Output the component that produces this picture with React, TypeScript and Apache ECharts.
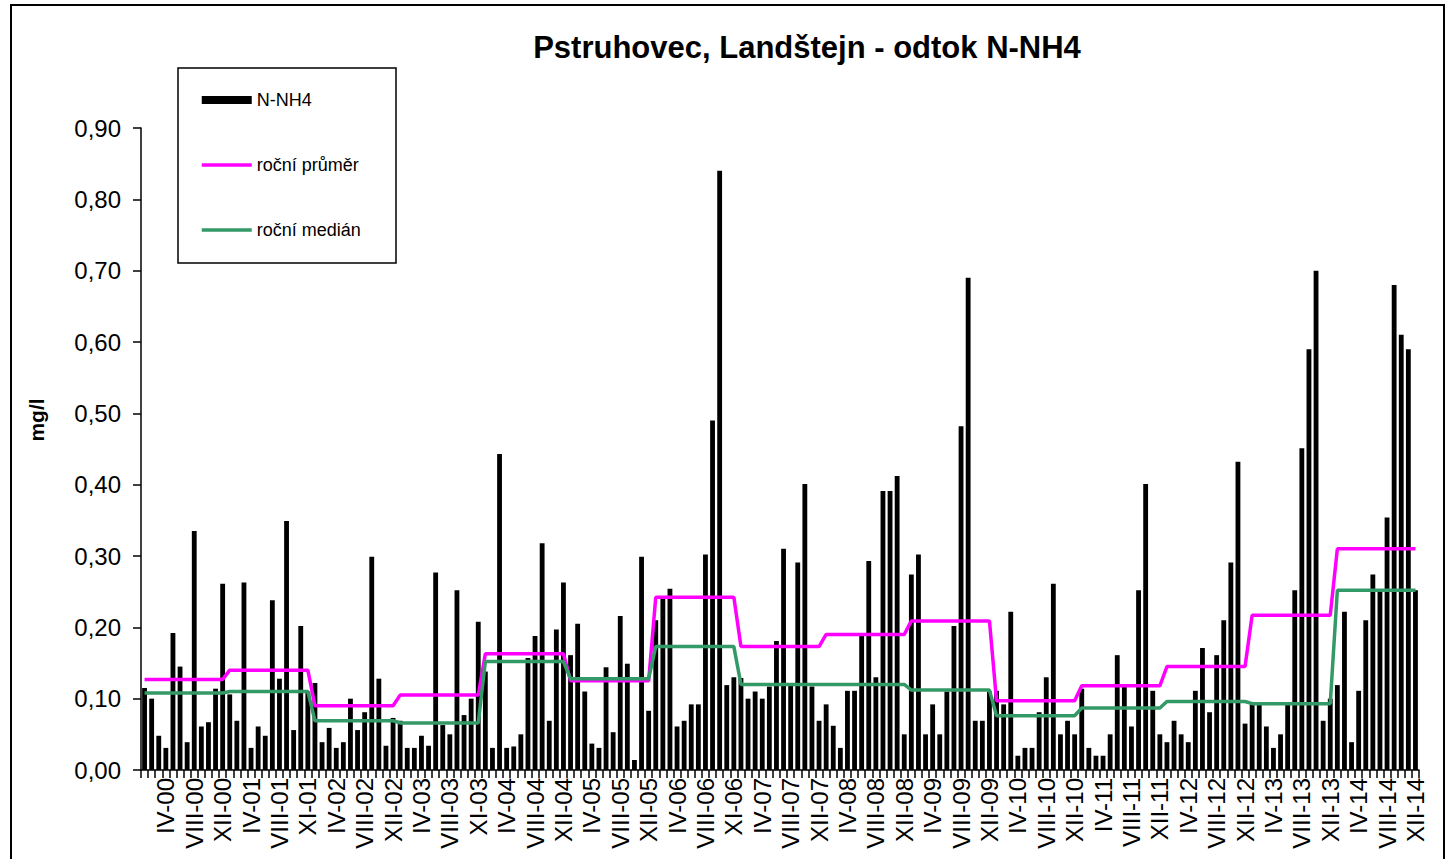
import React, { useEffect, useRef } from "react";
import * as echarts from "echarts";

// ---- categories (sample months) ----
const years = ["00", "01", "02", "03", "04", "05", "06", "07", "08", "09", "10", "11", "12", "13", "14"];
const monthsRegular = ["I", "II", "III", "IV", "V", "VI", "VII", "VIII", "IX", "X", "XI", "XII"];
const monthsShifted = ["I", "II", "III", "IV", "V", "VI", "VII", "VIII", "IX", "X", "X", "XI"];
const shiftedYears = ["01", "03", "06"];

// ---- N-NH4 values (mg/l), 12 samples per year ----
const nh4_2000 = [0.115, 0.1, 0.048, 0.031, 0.192, 0.145, 0.039, 0.335, 0.061, 0.067, 0.114, 0.261];
const nh4_2001 = [0.106, 0.069, 0.263, 0.031, 0.061, 0.048, 0.238, 0.128, 0.349, 0.056, 0.202, 0.11];
const nh4_2002 = [0.122, 0.039, 0.059, 0.031, 0.039, 0.1, 0.056, 0.081, 0.299, 0.128, 0.034, 0.073];
const nh4_2003 = [0.069, 0.031, 0.031, 0.048, 0.034, 0.277, 0.063, 0.05, 0.252, 0.077, 0.1, 0.208];
const nh4_2004 = [0.138, 0.031, 0.443, 0.031, 0.033, 0.05, 0.157, 0.188, 0.318, 0.069, 0.197, 0.263];
const nh4_2005 = [0.161, 0.205, 0.11, 0.037, 0.031, 0.144, 0.053, 0.216, 0.149, 0.014, 0.299, 0.083];
const nh4_2006 = [0.21, 0.24, 0.254, 0.061, 0.069, 0.092, 0.092, 0.302, 0.49, 0.84, 0.119, 0.13];
const nh4_2007 = [0.129, 0.1, 0.11, 0.1, 0.117, 0.181, 0.31, 0.12, 0.291, 0.401, 0.117, 0.069];
const nh4_2008 = [0.092, 0.062, 0.031, 0.111, 0.111, 0.19, 0.293, 0.13, 0.391, 0.391, 0.412, 0.05];
const nh4_2009 = [0.274, 0.302, 0.05, 0.092, 0.05, 0.11, 0.202, 0.482, 0.69, 0.069, 0.069, 0.11];
const nh4_2010 = [0.111, 0.092, 0.222, 0.02, 0.031, 0.031, 0.081, 0.13, 0.261, 0.05, 0.069, 0.05];
const nh4_2011 = [0.114, 0.031, 0.02, 0.02, 0.05, 0.161, 0.12, 0.061, 0.252, 0.401, 0.111, 0.05];
const nh4_2012 = [0.039, 0.069, 0.05, 0.039, 0.111, 0.171, 0.081, 0.161, 0.21, 0.291, 0.432, 0.065];
const nh4_2013 = [0.092, 0.092, 0.061, 0.031, 0.05, 0.092, 0.252, 0.451, 0.59, 0.7, 0.069, 0.1];
const nh4_2014 = [0.119, 0.222, 0.039, 0.111, 0.21, 0.274, 0.252, 0.354, 0.68, 0.61, 0.59, 0.252];

// ---- annual statistics ----
const annualMean = [0.127, 0.14, 0.09, 0.105, 0.163, 0.125, 0.242, 0.173, 0.19, 0.209, 0.097, 0.118, 0.145, 0.217, 0.31];
const annualMedian = [0.108, 0.11, 0.069, 0.066, 0.152, 0.128, 0.173, 0.12, 0.12, 0.112, 0.076, 0.087, 0.096, 0.093, 0.252];

const yearlyValues = [
  nh4_2000, nh4_2001, nh4_2002, nh4_2003, nh4_2004, nh4_2005, nh4_2006, nh4_2007,
  nh4_2008, nh4_2009, nh4_2010, nh4_2011, nh4_2012, nh4_2013, nh4_2014,
];

const FONT = "'Liberation Sans', Arial, Helvetica, sans-serif";

export default function App() {
  const ref = useRef<HTMLDivElement>(null);

  useEffect(() => {
    if (!ref.current) return;
    const chart = echarts.init(ref.current, undefined, { renderer: "svg" });

    const categories: string[] = [];
    years.forEach((y) => {
      const months = shiftedYears.includes(y) ? monthsShifted : monthsRegular;
      months.forEach((m) => categories.push(`${m}-${y}`));
    });
    const barData: number[] = [];
    const meanData: number[] = [];
    const medianData: number[] = [];
    yearlyValues.forEach((vals, yi) => {
      vals.forEach((v) => {
        barData.push(v);
        meanData.push(annualMean[yi]);
        medianData.push(annualMedian[yi]);
      });
    });

    const hiddenSymbol = { color: "rgba(0,0,0,0)", borderWidth: 0, opacity: 0 };

    chart.setOption({
      animation: false,
      backgroundColor: "#ffffff",
      textStyle: { fontFamily: FONT },
      grid: { left: 141, right: 36, top: 128, bottom: 89, containLabel: false },
      graphic: [
        {
          type: "rect",
          shape: { x: 11, y: 5, width: 1433, height: 900 },
          style: { fill: "none", stroke: "#000", lineWidth: 2 },
          z: 100,
        },
        {
          type: "rect",
          shape: { x: 178, y: 68, width: 218, height: 195 },
          style: { fill: "none", stroke: "#000", lineWidth: 1.5 },
          z: 100,
        },
        {
          type: "text",
          x: 807,
          y: 47,
          style: {
            text: "Pstruhovec, Landštejn - odtok N-NH4",
            fontSize: 31,
            fontWeight: "bold",
            fontFamily: FONT,
            fill: "#000",
            align: "center",
            verticalAlign: "middle",
          },
        },
        {
          type: "text",
          x: 36,
          y: 420,
          rotation: Math.PI / 2,
          style: {
            text: "mg/l",
            fontSize: 21,
            fontWeight: "bold",
            fontFamily: FONT,
            fill: "#000",
            align: "center",
            verticalAlign: "middle",
          },
        },
      ],
      legend: {
        left: 178,
        top: 68,
        orient: "vertical",
        padding: [22, 10, 24, 22],
        itemGap: 45,
        itemWidth: 50,
        itemHeight: 8,
        textStyle: { fontSize: 18, lineHeight: 20, color: "#000", fontFamily: FONT },
        data: [
          { name: "N-NH4", icon: "rect" },
          { name: "roční průměr", itemStyle: hiddenSymbol, lineStyle: { width: 3.5, color: "#FF00FF" } },
          { name: "roční medián", itemStyle: hiddenSymbol, lineStyle: { width: 3.5, color: "#339966" } },
        ],
      },
      xAxis: {
        type: "category",
        data: categories,
        boundaryGap: true,
        axisLine: { show: true, lineStyle: { color: "#000", width: 1.5 } },
        axisTick: { show: true, interval: 0, length: 8, lineStyle: { color: "#000", width: 1.5 } },
        axisLabel: {
          rotate: 90,
          interval: (i: number) => i % 4 === 3,
          fontSize: 24,
          color: "#000",
          fontFamily: FONT,
          margin: 8,
        },
        splitLine: { show: false },
      },
      yAxis: {
        type: "value",
        min: 0,
        max: 0.9,
        interval: 0.1,
        axisLine: { show: true, lineStyle: { color: "#000", width: 1.5 } },
        axisTick: { show: true, length: 8, lineStyle: { color: "#000", width: 1.5 } },
        axisLabel: {
          fontSize: 24,
          color: "#000",
          fontFamily: FONT,
          margin: 20,
          formatter: (v: number) => v.toFixed(2).replace(".", ","),
        },
        splitLine: { show: false },
      },
      series: [
        {
          name: "N-NH4",
          type: "bar",
          data: barData,
          barWidth: "68%",
          itemStyle: { color: "#000000" },
        },
        {
          name: "roční průměr",
          type: "line",
          data: meanData,
          symbol: "none",
          lineStyle: { color: "#FF00FF", width: 3.5 },
          itemStyle: { color: "#FF00FF" },
        },
        {
          name: "roční medián",
          type: "line",
          data: medianData,
          symbol: "none",
          lineStyle: { color: "#339966", width: 3.5 },
          itemStyle: { color: "#339966" },
        },
      ],
    });

    return () => chart.dispose();
  }, []);

  return (
    <div
      ref={ref}
      style={{ position: "absolute", left: 0, top: 0, width: 1455, height: 859 }}
    />
  );
}
